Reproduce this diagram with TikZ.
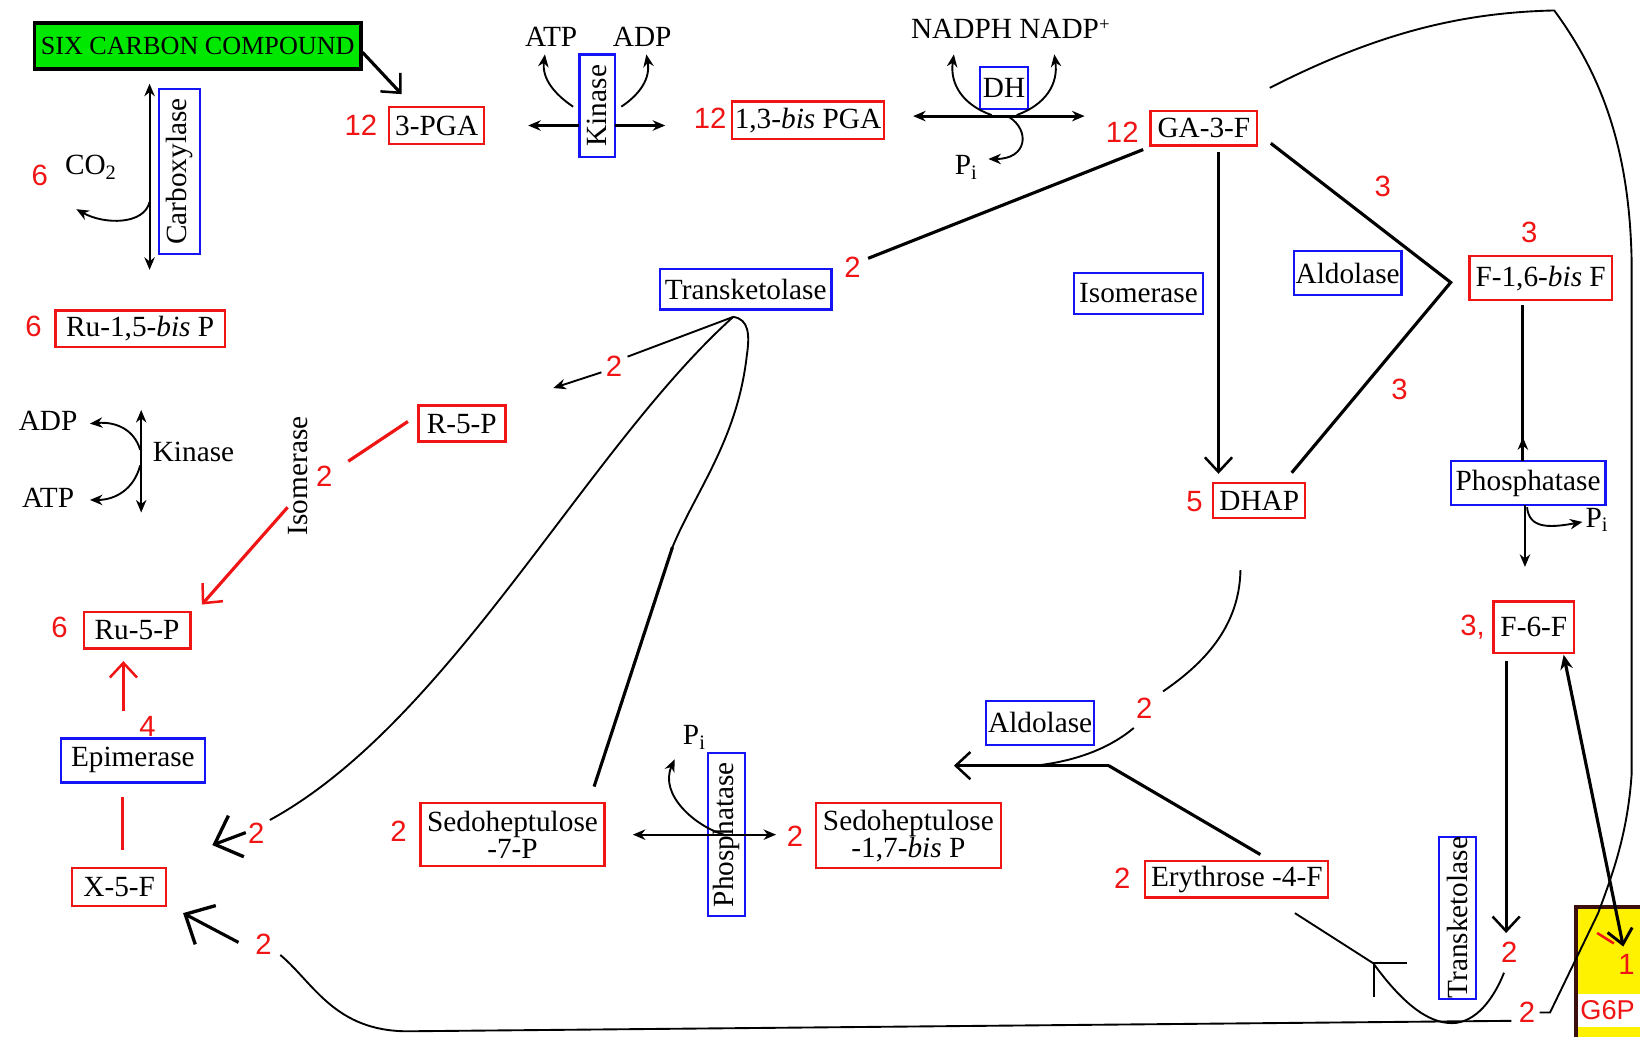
\documentclass[tikz,border=0pt]{standalone}
\usepackage{fontspec}
\setmainfont{Liberation Serif}
\newfontfamily\nf{Liberation Sans}
\usetikzlibrary{arrows.meta}
\definecolor{cgreen}{RGB}{0,232,0}
\definecolor{cred}{RGB}{240,20,20}
\definecolor{cblue}{RGB}{20,20,245}
\definecolor{cdark}{RGB}{60,15,15}
\begin{document}
\begin{tikzpicture}[x=0.5pt,y=-0.5pt,
  met/.style={draw=cred, line width=1.1pt, fill=white, inner sep=0pt, font=\fontsize{14}{13}\selectfont, align=center},
  enz/.style={draw=cblue, line width=1.1pt, fill=white, inner sep=0pt, font=\fontsize{14}{15}\selectfont},
  lbl/.style={inner sep=0pt, font=\fontsize{14}{15}\selectfont},
  num/.style={inner sep=0pt, text=cred, font=\nf\fontsize{14}{15}\selectfont},
  ln/.style={line width=0.9pt},
  tk/.style={line width=1.5pt},
  barb/.style={-{Straight Barb[length=7pt,width=13pt,line width=1.2pt]}},
  bigbarb/.style={-{Straight Barb[length=11pt,width=21pt,line width=1.6pt]}},
  stl/.style={-{Stealth[length=6pt,width=5pt]}},
  dstl/.style={{Stealth[length=6pt,width=5pt]}-{Stealth[length=6pt,width=5pt]}},
]
\fill[white] (0,0) rectangle (1568,991);
\useasboundingbox (0,0) rectangle (1568,991);

% ---------- boxes ----------
\node[draw=black, line width=1.6pt, fill=cgreen, inner sep=0pt, minimum width=156pt, minimum height=22pt, font=\fontsize{12.5}{13}\selectfont] (six) at (189,44) {SIX CARBON COMPOUND};
\node[met, minimum width=45.5pt, minimum height=18pt] (pga) at (417.5,120) {3-PGA};
\node[enz, rotate=90, minimum width=49pt, minimum height=17pt] (kin) at (571,101) {Kinase};
\node[met, minimum width=72.5pt, minimum height=18pt] (bpga) at (772.5,115) {1,3-\textit{bis} PGA};
\node[enz, minimum width=23pt, minimum height=20pt] (dh) at (960,84) {DH};
\node[met, minimum width=51pt, minimum height=16.5pt] (ga) at (1151,122.5) {GA-3-F};
\node[enz, minimum width=82pt, minimum height=19.5pt] (tk1) at (713,276.5) {Transketolase};
\node[enz, minimum width=61.5pt, minimum height=19.5pt] (iso1) at (1088.5,280.5) {Isomerase};
\node[enz, minimum width=51.5pt, minimum height=21pt] (ald1) at (1288.5,261) {Aldolase};
\node[met, minimum width=68pt, minimum height=21pt] (fbp) at (1473,266) {F-1,6-\textit{bis} F};
\node[met, minimum width=44pt, minimum height=16.5pt] (dhap) at (1204,478.5) {DHAP};
\node[enz, minimum width=74pt, minimum height=21pt] (ph1) at (1461,462) {Phosphatase};
\node[met, minimum width=38.5pt, minimum height=24.5pt] (f6p) at (1466.5,599.5) {F-6-F};
\node[enz, rotate=90, minimum width=79pt, minimum height=19.5pt] (carb) at (171.5,164) {Carboxylase};
\node[met, minimum width=81pt, minimum height=17.5pt] (rubp) at (134,314.5) {Ru-1,5-\textit{bis} P};
\node[met, line width=1.6pt, minimum width=41.5pt, minimum height=17pt] (r5p) at (441.5,405) {R-5-P};
\node[met, minimum width=51pt, minimum height=17.5pt] (ru5p) at (131,602.5) {Ru-5-P};
\node[enz, minimum width=69pt, minimum height=21pt] (epi) at (127,727) {Epimerase};
\node[met, minimum width=45pt, minimum height=18pt] (x5p) at (114,848) {X-5-F};
\node[met, minimum width=88pt, minimum height=30pt] (s7p) at (490,798) {Sedoheptulose\\-7-P};
\node[enz, rotate=90, minimum width=78pt, minimum height=17.5pt] (ph2) at (694.5,798) {Phosphatase};
\node[met, minimum width=88.5pt, minimum height=31pt] (sbp) at (868.5,799) {Sedoheptulose\\-1,7-\textit{bis} P};
\node[enz, minimum width=51.5pt, minimum height=21pt] (ald2) at (994.5,691) {Aldolase};
\node[met, minimum width=87.5pt, minimum height=17.5pt] (ery) at (1182.5,840.5) {Erythrose -4-F};
\node[enz, rotate=90, minimum width=77.5pt, minimum height=17.5pt] (tk2) at (1393.5,877.5) {Transketolase};

% ---------- G6P ----------
\draw[fill=yellow, draw=cdark, line width=2pt] (1507,867) rectangle (1590,1010);
\fill[white] (1509,950) rectangle (1568,982);
\node[num, font=\nf\fontsize{13}{14}\selectfont] (g6p) at (1537,966) {G6P};
\node[num] (n1) at (1555,922) {1};
\draw[cred, line width=1.2pt] (1527,892) -- (1543,902);

% ---------- plain labels ----------
\node[lbl] (atp1) at (527,35) {ATP};
\node[lbl] (adp1) at (614,35) {ADP};
\node[lbl] (nadph) at (966,28) {NADPH NADP\raisebox{0.6ex}{\fontsize{9}{9}\selectfont +}};
\node[lbl] (pi1) at (924,160) {P\textsubscript{i}};
\node[lbl] (co2) at (87,160) {CO\textsubscript{2}};
\node[lbl] (adp2) at (46,402) {ADP};
\node[lbl] (atp2) at (46,476) {ATP};
\node[lbl] (kin2) at (185,432) {Kinase};
\node[lbl, rotate=90] (iso2) at (285,455) {Isomerase};
\node[lbl] (pi2) at (1527,497) {P\textsubscript{i}};
\node[lbl] (pi3) at (664,705) {P\textsubscript{i}};

% ---------- red numbers ----------
\node[num] at (345,120) {12};
\node[num] at (679,113) {12};
\node[num] at (1073,126) {12};
\node[num] at (38,168) {6};
\node[num] at (32,312) {6};
\node[num] at (57,600) {6};
\node[num] at (815,256) {2};
\node[num] at (587,350) {2};
\node[num] at (310,455) {2};
\node[num] at (1322,178) {3};
\node[num] at (1462,222) {3};
\node[num] at (1338,372) {3};
\node[num] at (1142,480) {5};
\node[num] at (1408,600) {3,};
\node[num] at (141,695) {4};
\node[num] at (245,797) {2};
\node[num] at (252,903) {2};
\node[num] at (381,795) {2};
\node[num] at (760,800) {2};
\node[num] at (1094,677) {2};
\node[num] at (1073,840) {2};
\node[num] at (1443,910) {2};
\node[num] at (1460,968) {2};

% ---------- connectors ----------
\coordinate (a1) at (384,90);
\draw[tk,barb] ([yshift=-3pt]six.east) -- (a1);

% kinase (top)
\draw[tk,stl] (554,120) -- (505,120);
\draw[tk,stl] (588,120) -- (636,120);
\draw[ln,stl] (548,102) .. controls (530,90) and (518,75) .. (521,52);
\draw[ln,stl] (594,102) .. controls (612,90) and (622,75) .. (618,52);

% DH
\draw[tk,dstl] (873,111) -- (1037,111);
\draw[ln,stl] (948,110) .. controls (920,100) and (908,80) .. (912,52);
\draw[ln,stl] (972,110) .. controls (1000,100) and (1012,80) .. (1008,52);
\draw[ln,stl] (965,112) .. controls (985,125) and (982,152) .. (945,152);

% GA-3-F branches
\draw[tk] (1093,143) -- (830,247);
\draw[tk,barb] (1165,145) -- (1165,453);
\draw[tk] (1215,137) -- (1387,270) -- (1235,452);
\draw[ln] (1214,84) .. controls (1320,30) and (1400,12) .. (1486,10)
  .. controls (1530,70) and (1558,140) .. (1560,250) -- (1560,740)
  .. controls (1556,800) and (1540,840) .. (1528,873) -- (1482,968) -- (1472,968);

% F-1,6-bisP -> phosphatase -> F-6-P
\draw[tk] (1456,292) -- (1456,441);
\draw[tk,stl] (1456,441) -- (1456,418);
\draw[ln,stl] (1458,483) -- (1458,542);
\draw[ln,stl] (1460,485) .. controls (1462,505) and (1480,505) .. (1513,499);

% F-6-P
\draw[tk,barb] (1440,632) -- (1440,892);
\draw[tk,{Stealth[length=7pt,width=6pt]}-{Straight Barb[length=7pt,width=12pt,line width=1.4pt]}] (1495,626) -- (1552,905);

% DHAP -> aldolase
\draw[ln] (1186,545) .. controls (1185,600) and (1150,635) .. (1112,661);
\draw[ln] (1084,696) .. controls (1065,712) and (1035,727) .. (990,732);
\draw[tk,barb] (1060,732) -- (912,732);
\draw[tk] (1060,732) -- (1205,817);

% Erythrose U-turn
\draw[ln] (1238,873) -- (1313,921) .. controls (1345,965) and (1370,980) .. (1392,978)
  .. controls (1415,975) and (1430,950) .. (1438,930);
\draw[ln] (1313,921) -- (1345,921);
\draw[ln] (1314,921) -- (1314,953);

% bottom line to X-5-P
\draw[ln] (268,913) .. controls (300,940) and (320,986) .. (390,986) -- (1445,976);
\draw[tk,bigbarb] (228,901) -- (175,873);

% transketolase curves
\draw[ln] (600,341) -- (701,303) .. controls (716,305) and (717,320) .. (714,340)
  .. controls (705,420) and (665,470) .. (643,523);
\draw[tk] (643,523) -- (568,752);
\draw[ln] (701,303) .. controls (560,430) and (430,690) .. (258,784);
\draw[ln,stl] (575,356) -- (529,371);
\draw[tk,bigbarb] (235,796) -- (203,808);

% red isomerase / epimerase
\draw[cred, line width=1.5pt] (390,403) -- (333,441);
\draw[cred, line width=1.5pt, barb] (275,485) -- (193,578);
\draw[cred, line width=1.5pt, barb] (118,680) -- (118,632);
\draw[cred, line width=1.5pt] (117,762) -- (117,813);

% carboxylase
\draw[ln,dstl] (143,80) -- (143,258);
\draw[ln,stl] (143,193) .. controls (138,215) and (100,215) .. (73,200);

% kinase (left)
\draw[ln,dstl] (135,392) -- (135,490);
\draw[ln,stl] (134,430) .. controls (128,410) and (110,403) .. (86,405);
\draw[ln,stl] (134,445) .. controls (128,468) and (110,478) .. (86,478);

% phosphatase (bottom)
\draw[ln,dstl] (605,798) -- (742,798);
\draw[ln,stl] (692,798) .. controls (665,790) and (630,760) .. (645,726);
\end{tikzpicture}
\end{document}
